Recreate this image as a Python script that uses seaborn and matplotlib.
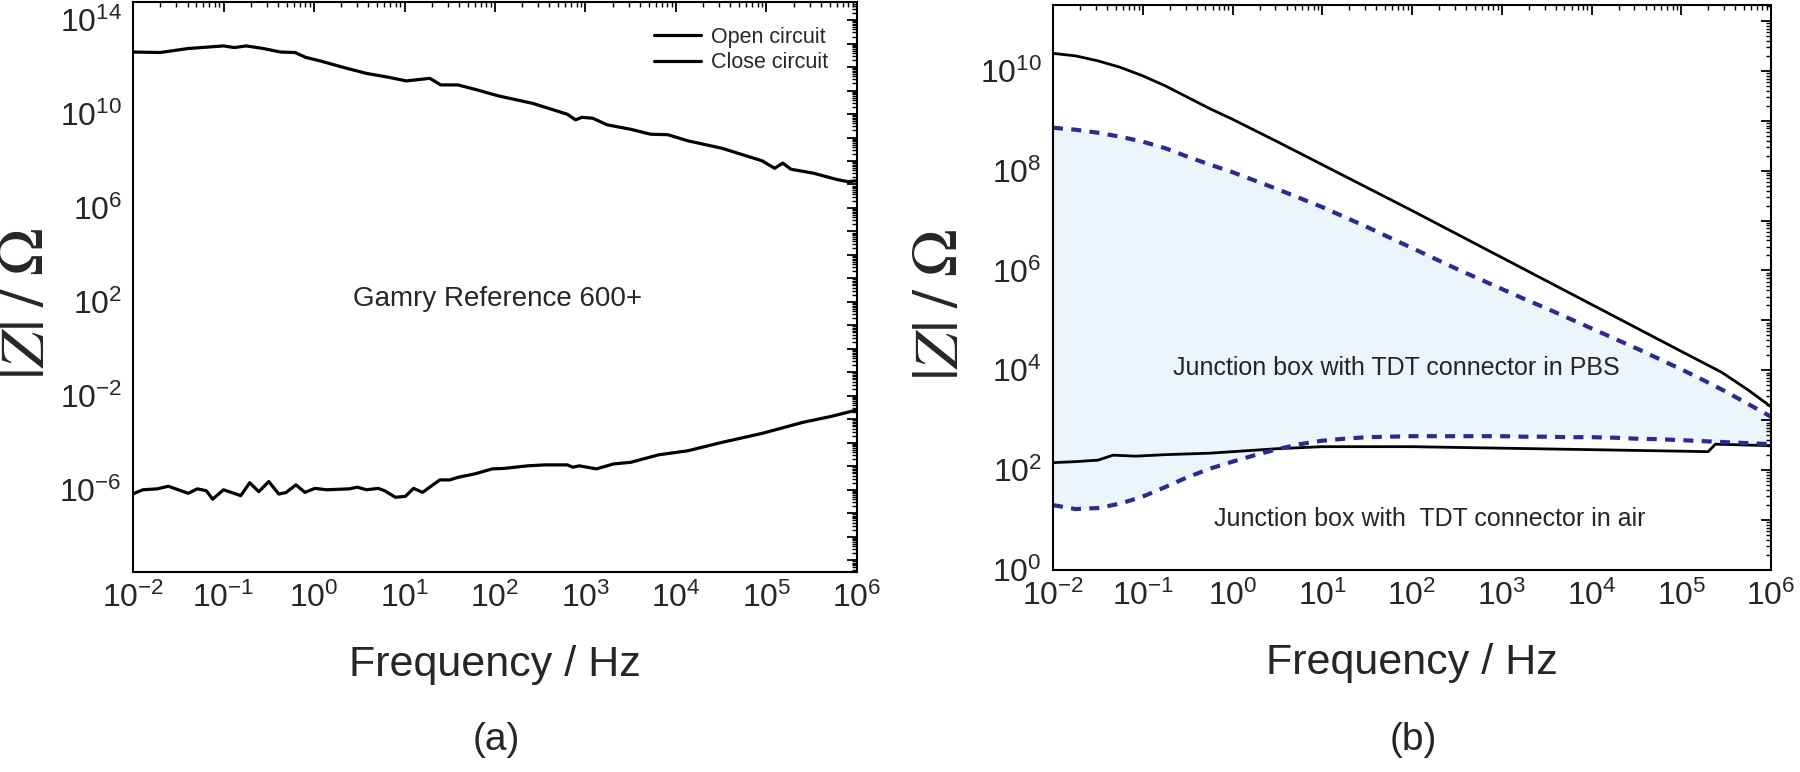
import numpy as np
import pandas as pd
import matplotlib
matplotlib.use("Agg")
import matplotlib.pyplot as plt
import matplotlib.ticker as mticker
import seaborn as sns

# ---- panel (a): Gamry Reference 600+ (log10 values)
open_logf = [-2.0, -1.70, -1.39, -1.0, -0.88, -0.75, -0.56, -0.37, -0.21, -0.09, 0.07, 0.33, 0.58,
             0.83, 1.02, 1.28, 1.40, 1.59, 1.78, 2.04, 2.42, 2.80, 2.89, 2.96, 3.08, 3.24, 3.50,
             3.72, 3.91, 4.13, 4.51, 4.95, 5.09, 5.18, 5.27, 5.52, 5.78, 5.90, 6.0]
open_logz = [12.64, 12.62, 12.79, 12.90, 12.83, 12.90, 12.79, 12.64, 12.62, 12.41, 12.26, 11.98, 11.73,
             11.56, 11.41, 11.52, 11.24, 11.24, 11.05, 10.77, 10.45, 9.99, 9.75, 9.86, 9.82, 9.54, 9.35,
             9.14, 9.12, 8.86, 8.54, 8.01, 7.69, 7.91, 7.65, 7.48, 7.21, 7.12, 7.16]
close_logf = [-2.0, -1.89, -1.73, -1.61, -1.39, -1.29, -1.19, -1.12, -1.0, -0.81, -0.71, -0.61, -0.50,
              -0.39, -0.31, -0.20, -0.10, 0.01, 0.14, 0.39, 0.48, 0.58, 0.71, 0.78, 0.90, 1.01, 1.10,
              1.20, 1.39, 1.50, 1.59, 1.78, 1.97, 2.10, 2.36, 2.55, 2.80, 2.86, 2.93, 3.12, 3.31, 3.50,
              3.81, 4.13, 4.51, 4.95, 5.40, 5.71, 6.0]
close_logz = [-6.17, -6.0, -5.96, -5.85, -6.15, -5.96, -6.04, -6.40, -6.0, -6.25, -5.70, -6.08, -5.65,
              -6.18, -6.12, -5.79, -6.11, -5.94, -6.0, -5.96, -5.89, -6.0, -5.94, -6.04, -6.32, -6.28,
              -5.94, -6.11, -5.58, -5.58, -5.47, -5.32, -5.11, -5.09, -4.98, -4.94, -4.94, -5.04, -4.98,
              -5.11, -4.90, -4.83, -4.51, -4.34, -3.98, -3.60, -3.13, -2.88, -2.60]

# ---- panel (b): junction box with TDT connector
air_hi_logf = [-2.0, -1.75, -1.5, -1.25, -1.0, -0.75, -0.5, -0.25, 0.0, 0.5, 1.0, 1.5, 2.0, 2.5, 3.0,
               3.5, 4.0, 4.5, 5.0, 5.45, 5.75, 6.0]
air_hi_logz = [10.35, 10.30, 10.20, 10.07, 9.90, 9.70, 9.47, 9.24, 9.03, 8.58, 8.12, 7.66, 7.20, 6.73,
               6.26, 5.79, 5.32, 4.85, 4.38, 3.96, 3.60, 3.27]
air_lo_logf = [-2.0, -1.75, -1.5, -1.33, -1.08, -0.75, -0.25, 0.0, 0.5, 1.0, 2.0, 3.0, 4.0, 5.0, 5.3,
               5.38, 6.0]
air_lo_logz = [2.15, 2.17, 2.20, 2.30, 2.28, 2.31, 2.34, 2.37, 2.43, 2.47, 2.47, 2.44, 2.41, 2.38, 2.37,
               2.52, 2.49]
pbs_logf = [-2.0, -1.75, -1.5, -1.25, -1.0, -0.75, -0.5, -0.25, 0.0, 0.25, 0.5, 0.75, 1.0, 1.25, 1.5,
            1.75, 2.0, 2.25, 2.5, 2.75, 3.0, 3.25, 3.5, 3.75, 4.0, 4.25, 4.5, 4.75, 5.0, 5.25, 5.5,
            5.75, 6.0]
pbs_hi_logz = [8.86, 8.82, 8.76, 8.68, 8.58, 8.45, 8.28, 8.12, 7.97, 7.80, 7.63, 7.45, 7.27, 7.07, 6.87,
               6.66, 6.45, 6.24, 6.03, 5.83, 5.63, 5.43, 5.24, 5.04, 4.84, 4.64, 4.44, 4.23, 4.02, 3.80,
               3.57, 3.32, 3.07]
pbs_lo_logz = [1.30, 1.22, 1.24, 1.33, 1.47, 1.66, 1.86, 2.03, 2.17, 2.30, 2.42, 2.52, 2.59, 2.63, 2.66,
               2.67, 2.68, 2.68, 2.68, 2.68, 2.68, 2.67, 2.67, 2.66, 2.66, 2.65, 2.63, 2.62, 2.60, 2.58,
               2.56, 2.54, 2.52]

df_a = pd.concat([
    pd.DataFrame({'freq': 10.0 ** np.array(open_logf), 'Z': 10.0 ** np.array(open_logz), 'circuit': 'Open circuit'}),
    pd.DataFrame({'freq': 10.0 ** np.array(close_logf), 'Z': 10.0 ** np.array(close_logz), 'circuit': 'Close circuit'}),
])
pbs_f = 10.0 ** np.array(pbs_logf)
pbs_hi = 10.0 ** np.array(pbs_hi_logz)
pbs_lo = 10.0 ** np.array(pbs_lo_logz)

sns.set_style('white')
plt.rcParams['font.family'] = ['Liberation Sans', 'DejaVu Sans']
plt.rcParams['axes.linewidth'] = 1.5

fig = plt.figure(figsize=(18, 7.72), dpi=100)
ax1 = fig.add_axes([0.0739, 0.2591, 0.4022, 0.7383])
ax2 = fig.add_axes([0.585, 0.2617, 0.3989, 0.7319])


def dec_fmt(step, base):
    def f(v, pos):
        e = int(round(np.log10(v)))
        if (e - base) % step:
            return ''
        return r'$\mathregular{10^{%d}}$' % e
    return mticker.FuncFormatter(f)


def style_axes(ax, ylo, yhi, ystep, ybase):
    ax.set_xscale('log')
    ax.set_yscale('log')
    ax.set_xlim(1e-2, 1e6)
    ax.set_ylim(ylo, yhi)
    ax.xaxis.set_major_locator(mticker.LogLocator(base=10, numticks=30))
    ax.xaxis.set_minor_locator(mticker.LogLocator(base=10, subs=np.arange(2, 10), numticks=30))
    ax.xaxis.set_major_formatter(dec_fmt(1, 0))
    ax.xaxis.set_minor_formatter(mticker.NullFormatter())
    ax.yaxis.set_major_locator(mticker.LogLocator(base=10, numticks=40))
    ax.yaxis.set_minor_locator(mticker.LogLocator(base=10, subs=np.arange(2, 10), numticks=40))
    ax.yaxis.set_major_formatter(dec_fmt(ystep, ybase))
    ax.yaxis.set_minor_formatter(mticker.NullFormatter())
    ax.tick_params(which='both', direction='in', top=True, right=True, color='black')
    ax.tick_params(which='major', length=7, width=1.3, labelsize=23, pad=8)
    ax.tick_params(which='minor', length=3.5, width=1.0)
    for s in ax.spines.values():
        s.set_color('black')
        s.set_linewidth(1.5)
    ax.set_xlabel('Frequency / Hz', fontsize=31)
    ax.set_ylabel(r'$|Z|\;/\;\mathit{\Omega}$', fontsize=46, math_fontfamily='stix')


# ---- (a)
style_axes(ax1, 10 ** -9.5, 10 ** 14.77, 4, 2)
sns.lineplot(data=df_a, x='freq', y='Z', hue='circuit', palette={'Open circuit': 'black', 'Close circuit': 'black'},
             estimator=None, sort=False, lw=2.3, ax=ax1)
style_axes(ax1, 10 ** -9.5, 10 ** 14.77, 4, 2)
h, l = ax1.get_legend_handles_labels()
ax1.legend(h, l, loc='upper right', bbox_to_anchor=(0.975, 0.975), frameon=False, fontsize=15.5,
           handlelength=2.2, handletextpad=0.45, labelspacing=0.2, borderpad=0)
ax1.text(10 ** 2.03, 10 ** 2.13, 'Gamry Reference 600+', fontsize=20, ha='center', va='center')
ax1.xaxis.set_label_coords(0.5, -0.128)
ax1.yaxis.set_label_coords(-0.105, 0.47)

# ---- (b)
style_axes(ax2, 1, 10 ** 11.32, 2, 0)
ax2.fill_between(pbs_f, pbs_lo, pbs_hi, color='#ecf4fc', lw=0, zorder=0)
sns.lineplot(x=10.0 ** np.array(air_hi_logf), y=10.0 ** np.array(air_hi_logz), color='black', lw=2.0,
             estimator=None, sort=False, ax=ax2)
sns.lineplot(x=10.0 ** np.array(air_lo_logf), y=10.0 ** np.array(air_lo_logz), color='black', lw=2.0,
             estimator=None, sort=False, ax=ax2)
sns.lineplot(x=pbs_f, y=pbs_hi, color='#2b2b8f', lw=3.0, linestyle=(0, (2.4, 2.0)),
             estimator=None, sort=False, ax=ax2)
sns.lineplot(x=pbs_f, y=pbs_lo, color='#2b2b8f', lw=3.0, linestyle=(0, (2.4, 2.0)),
             estimator=None, sort=False, ax=ax2)
style_axes(ax2, 1, 10 ** 11.32, 2, 0)
ax2.text(10 ** 1.83, 10 ** 4.05, 'Junction box with TDT connector in PBS', fontsize=18, ha='center', va='center')
ax2.text(10 ** 2.2, 10 ** 1.02, 'Junction box with  TDT connector in air', fontsize=18, ha='center', va='center')
ax2.xaxis.set_label_coords(0.5, -0.13)
ax2.yaxis.set_label_coords(-0.114, 0.47)

fig.text(0.2756, 0.041, '(a)', fontsize=28, ha='center', va='center')
fig.text(0.785, 0.041, '(b)', fontsize=28, ha='center', va='center')

fig.savefig('out.png', dpi=100, facecolor='white')
